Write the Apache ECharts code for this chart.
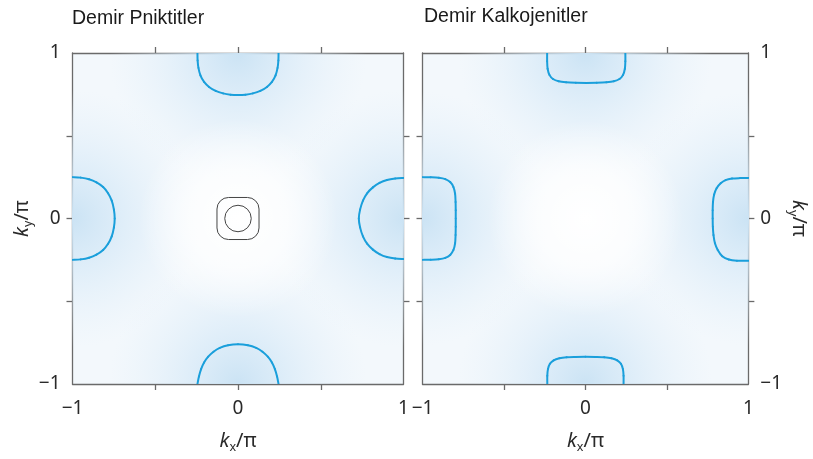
<!DOCTYPE html>
<html>
<head>
<meta charset="utf-8">
<script src="https://cdn.jsdelivr.net/npm/echarts@6/dist/echarts.min.js"></script>
<style>
  html, body { margin: 0; padding: 0; background: #ffffff; }
  #chart { width: 813px; height: 459px; }
</style>
</head>
<body>
<div id="chart"></div>
<script>
// Panel titles and axis ticks
const panelTitles = ['Demir Pniktitler', 'Demir Kalkojenitler'];
const labelValues = [-1, 0, 1];
const tickValues = [-0.5, 0, 0.5];

// Electron-pocket centres in the Brillouin zone (used for the background shading)
const pocketCentres = [[0, 1], [0, -1], [-1, 0], [1, 0]];
const zoneCentre = [[0, 0]];

// Fermi-surface contours, iron pnictides (kx/π, ky/π)
const pnictideTop = [[-0.245, 1], [-0.244, 0.955], [-0.239, 0.91], [-0.227, 0.865], [-0.205, 0.825], [-0.175, 0.795], [-0.135, 0.771], [-0.09, 0.756], [-0.045, 0.748], [0, 0.746], [0.045, 0.748], [0.09, 0.756], [0.135, 0.771], [0.175, 0.795], [0.205, 0.825], [0.227, 0.865], [0.239, 0.91], [0.244, 0.955], [0.245, 1]];
const pnictideBottom = [[-0.245, -1], [-0.236, -0.955], [-0.223, -0.91], [-0.205, -0.87], [-0.18, -0.835], [-0.148, -0.805], [-0.11, -0.782], [-0.06, -0.766], [0, -0.76], [0.06, -0.766], [0.11, -0.782], [0.148, -0.805], [0.18, -0.835], [0.205, -0.87], [0.223, -0.91], [0.236, -0.955], [0.245, -1]];
const pnictideLeft = [[-1, 0.25], [-0.95, 0.247], [-0.9, 0.237], [-0.855, 0.218], [-0.815, 0.19], [-0.785, 0.153], [-0.763, 0.108], [-0.75, 0.055], [-0.745, 0], [-0.75, -0.055], [-0.763, -0.108], [-0.785, -0.153], [-0.815, -0.19], [-0.855, -0.218], [-0.9, -0.237], [-0.95, -0.247], [-1, -0.25]];
const pnictideRight = [[1, 0.245], [0.95, 0.242], [0.9, 0.233], [0.855, 0.215], [0.815, 0.188], [0.78, 0.152], [0.755, 0.108], [0.738, 0.055], [0.73, 0], [0.738, -0.055], [0.755, -0.108], [0.78, -0.152], [0.815, -0.188], [0.855, -0.215], [0.9, -0.233], [0.95, -0.242], [1, -0.245]];
// Hole pockets at Γ: [kx, ky, inner radius, outer half-width]
const pnictideHoles = [[0, 0, 0.08, 0.127]];

// Fermi-surface contours, iron chalcogenides
const chalcoTop = [[-0.235, 1], [-0.235, 0.95], [-0.232, 0.905], [-0.221, 0.868], [-0.199, 0.843], [-0.164, 0.829], [-0.119, 0.823], [-0.059, 0.82], [0.005, 0.819], [0.069, 0.82], [0.129, 0.823], [0.174, 0.829], [0.209, 0.843], [0.231, 0.868], [0.242, 0.905], [0.245, 0.95], [0.245, 1]];
const chalcoBottom = [[-0.234, -1], [-0.234, -0.95], [-0.23, -0.91], [-0.218, -0.878], [-0.195, -0.857], [-0.16, -0.845], [-0.115, -0.839], [-0.06, -0.837], [0, -0.836], [0.06, -0.837], [0.115, -0.839], [0.16, -0.845], [0.195, -0.857], [0.218, -0.878], [0.23, -0.91], [0.234, -0.95], [0.234, -1]];
const chalcoLeft = [[-1, 0.25], [-0.95, 0.249], [-0.9, 0.246], [-0.86, 0.238], [-0.83, 0.22], [-0.81, 0.19], [-0.8, 0.15], [-0.797, 0.1], [-0.796, 0.05], [-0.796, 0], [-0.796, -0.05], [-0.797, -0.1], [-0.8, -0.15], [-0.81, -0.19], [-0.83, -0.22], [-0.86, -0.238], [-0.9, -0.246], [-0.95, -0.249], [-1, -0.25]];
const chalcoRight = [[1, 0.245], [0.95, 0.244], [0.9, 0.241], [0.86, 0.232], [0.83, 0.213], [0.805, 0.183], [0.79, 0.145], [0.783, 0.1], [0.781, 0.05], [0.781, 0], [0.782, -0.05], [0.786, -0.1], [0.795, -0.15], [0.812, -0.19], [0.84, -0.228], [0.88, -0.248], [0.93, -0.255], [1, -0.256]];

const BLUE = '#1a9fdb';
const AXIS = '#6a6a6a';
const FONT = 'Noto Sans';
const TEXT = '#2a2a2a';

const fmt = v => (v < 0 ? '\u2212' + Math.abs(v) : String(v));

function kName(sub) {
  return '{k|k}{s|' + sub + '}{p|/\u03c0}';
}
const nameRich = {
  k: { fontFamily: FONT, fontStyle: 'italic', fontSize: 20, color: TEXT, lineHeight: 26, verticalAlign: 'middle' },
  s: { fontFamily: FONT, fontSize: 12.5, color: TEXT, lineHeight: 26, verticalAlign: 'bottom', padding: [13, 0, 0, 0] },
  p: { fontFamily: FONT, fontSize: 20, color: TEXT, lineHeight: 26, verticalAlign: 'middle' }
};

function frameAxis(extra) {
  return Object.assign({
    type: 'value', min: -1, max: 1, interval: 0.5,
    axisLine: { show: true, onZero: false, lineStyle: { color: AXIS, width: 1.3 } },
    axisTick: { show: true, inside: false, length: 6, customValues: tickValues, lineStyle: { color: AXIS, width: 1.3 } },
    axisLabel: { show: false },
    splitLine: { show: false }
  }, extra);
}
const labelStyle = { show: true, customValues: labelValues, formatter: fmt, fontFamily: FONT, fontSize: 19, color: TEXT };

function shadeItem(params, api) {
  const c = api.coord([api.value(0), api.value(1)]);
  const r = api.size([0.78, 0.78])[0];
  return {
    type: 'circle',
    shape: { cx: c[0], cy: c[1], r: r },
    style: {
      fill: new echarts.graphic.RadialGradient(0.5, 0.5, 0.5, [
        { offset: 0, color: 'rgba(203,227,244,1)' },
        { offset: 0.35, color: 'rgba(212,232,247,0.7)' },
        { offset: 1, color: 'rgba(228,240,250,0)' }
      ])
    }
  };
}
function whiteItem(params, api) {
  const c = api.coord([api.value(0), api.value(1)]);
  const r = api.size([0.6, 0.6])[0];
  return {
    type: 'circle',
    shape: { cx: c[0], cy: c[1], r: r },
    style: {
      fill: new echarts.graphic.RadialGradient(0.5, 0.5, 0.5, [
        { offset: 0, color: 'rgba(255,255,255,1)' },
        { offset: 0.5, color: 'rgba(255,255,255,0.7)' },
        { offset: 1, color: 'rgba(255,255,255,0)' }
      ])
    }
  };
}
function holeItem(params, api) {
  const c = api.coord([api.value(0), api.value(1)]);
  const ri = api.size([api.value(2), 0])[0];
  const h = api.size([api.value(3), 0])[0];
  return {
    type: 'group',
    children: [
      { type: 'circle', shape: { cx: c[0], cy: c[1], r: ri }, style: { fill: 'transparent', stroke: '#444', lineWidth: 1 } },
      { type: 'rect', shape: { x: c[0] - h, y: c[1] - h, width: 2 * h, height: 2 * h, r: h * 0.55 }, style: { fill: 'transparent', stroke: '#444', lineWidth: 1 } }
    ]
  };
}

// Smooth contour through the listed points: each segment is a cubic Bézier
// whose handles follow the neighbouring points (Catmull–Rom tangents).
function contour(points, xi, yi) {
  return {
    type: 'custom', xAxisIndex: xi, yAxisIndex: yi, data: points,
    clip: true, silent: true, z: 5,
    renderItem: function (params, api) {
      const i = params.dataIndex;
      const n = points.length;
      if (i >= n - 1) return null;
      const P = k => api.coord(points[Math.max(0, Math.min(n - 1, k))]);
      const p0 = P(i - 1), p1 = P(i), p2 = P(i + 1), p3 = P(i + 2);
      return {
        type: 'bezierCurve',
        shape: {
          x1: p1[0], y1: p1[1], x2: p2[0], y2: p2[1],
          cpx1: p1[0] + (p2[0] - p0[0]) / 6, cpy1: p1[1] + (p2[1] - p0[1]) / 6,
          cpx2: p2[0] - (p3[0] - p1[0]) / 6, cpy2: p2[1] - (p3[1] - p1[1]) / 6
        },
        style: { stroke: BLUE, lineWidth: 2, fill: null, lineCap: 'round' }
      };
    }
  };
}

const chart = echarts.init(document.getElementById('chart'), null, { renderer: 'canvas' });
chart.setOption({
  animation: false,
  backgroundColor: '#ffffff',
  grid: [
    { left: 72.5, top: 53, width: 331, height: 331, show: true, backgroundColor: '#f3f8fc', borderWidth: 0 },
    { left: 422.5, top: 53, width: 331, height: 331, show: true, backgroundColor: '#f3f8fc', borderWidth: 0 }
  ],
  graphic: [
    { type: 'text', left: 72, top: 9, style: { text: panelTitles[0], fontFamily: 'Liberation Sans', fontSize: 19.5, fill: '#1a1a1a' } },
    { type: 'text', left: 424, top: 7, style: { text: panelTitles[1], fontFamily: 'Liberation Sans', fontSize: 19.5, fill: '#1a1a1a' } }
  ],
  xAxis: [
    frameAxis({ gridIndex: 0, position: 'bottom', axisLabel: Object.assign({ margin: 15 }, labelStyle),
      name: kName('x'), nameLocation: 'middle', nameGap: 44, nameTextStyle: { rich: nameRich } }),
    frameAxis({ gridIndex: 0, position: 'top' }),
    frameAxis({ gridIndex: 1, position: 'bottom', axisLabel: Object.assign({ margin: 15 }, labelStyle),
      name: kName('x'), nameLocation: 'middle', nameGap: 44, nameTextStyle: { rich: nameRich } }),
    frameAxis({ gridIndex: 1, position: 'top' })
  ],
  yAxis: [
    frameAxis({ gridIndex: 0, position: 'left', axisLabel: Object.assign({ margin: 12 }, labelStyle),
      name: kName('y'), nameLocation: 'middle', nameRotate: 90, nameGap: 36, nameTextStyle: { rich: nameRich } }),
    frameAxis({ gridIndex: 0, position: 'right' }),
    frameAxis({ gridIndex: 1, position: 'right', axisLabel: Object.assign({ margin: 12 }, labelStyle),
      name: kName('y'), nameLocation: 'middle', nameRotate: -90, nameGap: 36, nameTextStyle: { rich: nameRich } }),
    frameAxis({ gridIndex: 1, position: 'left' })
  ],
  series: [
    { type: 'custom', xAxisIndex: 0, yAxisIndex: 0, data: pocketCentres, renderItem: shadeItem, clip: true, silent: true, z: 1 },
    { type: 'custom', xAxisIndex: 0, yAxisIndex: 0, data: zoneCentre, renderItem: whiteItem, clip: true, silent: true, z: 2 },
    { type: 'custom', xAxisIndex: 2, yAxisIndex: 2, data: pocketCentres, renderItem: shadeItem, clip: true, silent: true, z: 1 },
    { type: 'custom', xAxisIndex: 2, yAxisIndex: 2, data: zoneCentre, renderItem: whiteItem, clip: true, silent: true, z: 2 },
    contour(pnictideTop, 0, 0),
    contour(pnictideBottom, 0, 0),
    contour(pnictideLeft, 0, 0),
    contour(pnictideRight, 0, 0),
    { type: 'custom', xAxisIndex: 0, yAxisIndex: 0, data: pnictideHoles, renderItem: holeItem, clip: true, silent: true, z: 5 },
    contour(chalcoTop, 2, 2),
    contour(chalcoBottom, 2, 2),
    contour(chalcoLeft, 2, 2),
    contour(chalcoRight, 2, 2)
  ]
});
</script>
</body>
</html>
